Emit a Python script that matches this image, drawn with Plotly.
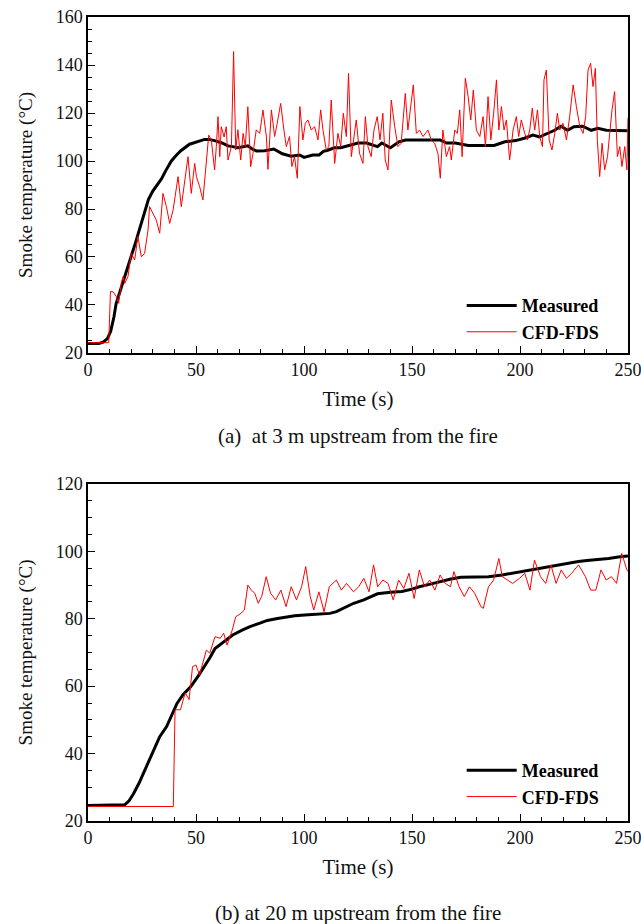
import plotly.graph_objects as go

# ---------------- (a) 3 m upstream ----------------
t_a_meas = [0, 5, 7, 9, 10.5, 12, 13, 15, 17, 20, 22, 24, 26.5, 28, 30, 32, 34, 36, 38.6, 41, 43, 47, 51, 54, 56,
            58.6, 62, 64.8, 67, 69.4, 74, 76, 78, 81.8, 86, 90, 94, 98, 100, 104, 107, 109, 111, 114, 117, 121, 125,
            129, 132, 134, 136, 138, 140, 144, 147, 155, 163, 166, 170, 173, 176, 182, 188, 193, 198, 202, 206, 209,
            213, 216, 219, 222, 225, 229, 233, 236, 240, 245, 250]
a_meas = [24, 24, 24.5, 26, 29, 35, 40.5, 46, 51.5, 60, 66, 72, 79.5, 84, 87.5, 90, 92.5, 96, 100, 102.5, 104.3, 107,
          108, 109, 109, 108.5, 107.5, 106.3, 106, 105.5, 106.3, 105, 104.2, 104.3, 105, 103, 102, 102.5, 101.5,
          102.5, 102.5, 104, 104.5, 105.5, 105.5, 106.5, 107.5, 107.5, 106.5, 106, 107.5, 106.5, 105.5, 108, 108.75,
          108.75, 108.75, 107.5, 107.5, 107, 106.5, 106.5, 106.5, 108, 108.5, 109.5, 110.8, 110, 111.5, 112.8,
          114.5, 112.8, 114.3, 114.5, 112.8, 113.6, 112.8, 112.6, 112.6]

t_a_cfd = [0, 9.6, 10.4, 11.6, 13.1, 14.2, 15.4, 16.2, 17, 18.5, 20, 21.6, 23.1, 24.7, 26.2, 27.8, 28.5, 30.1, 31.6,
           33.2, 34.7, 36.3, 37.8, 39.4, 40.9, 41.7, 43.2, 44.8, 46.3, 47.8, 49.4, 50.2, 51.7, 53.2, 54.8, 55.9, 57.1,
           58.6, 59.4, 60.2, 61, 61.7, 63, 64, 64.8, 66.4, 67.4, 68.4, 69.4, 70.7, 71.8, 72.8, 74, 75.3, 76.4, 77.9,
           79.5, 81, 82.6, 83.3,
           84.9, 86.4, 87.6, 89.2, 90.7, 91.8, 93.3, 94.4, 95.6, 96.9, 98.1, 99.5, 100.6, 101.8, 103.4, 104.9, 106.5,
           107.7, 108.8, 110.3, 111.5, 112.6, 114.2, 115.7, 117, 118.2, 119.6, 120.6, 121.9, 123.1, 124.2, 125.7,
           127.3, 128.4, 129.6, 131.1, 132.4, 133.9, 135.2, 136.5, 137.6, 138.9, 140.4, 142, 143.5, 145, 146.9, 148.1,
           149.4, 150.6, 152, 153.5, 155.1, 157.4, 158.9, 160.5, 162, 163.1, 164.3, 165.9, 167.4,
           168.2, 169.8, 171, 172.1, 173.2, 174.7, 176, 177.2, 178.4, 179.8, 181.4, 182.9, 184, 185.2, 186.5, 187.8,
           189.1, 190.2, 191.4, 192.6, 193.7, 195.2, 196.8, 198.3, 199.4, 200.6, 202.2, 203.4, 204.5, 205.7, 206.8,
           208.1, 209.1, 210.4, 211.1, 212.2, 213.5, 214.8, 216.1, 217.3, 218.4, 219.9, 221.5, 223, 224.6, 226.1,
           227.7, 229.2, 230.4, 231.5, 232.7, 233.8, 234.9, 235.8, 236.9, 238, 239.2, 240.5, 241.5, 242.6, 243.8,
           245.1, 246.2, 247.2, 248.5, 249.5, 250]
a_cfd = [24.3, 24.3, 45.6, 45.5, 43.5, 40.7, 49, 51.8, 49, 51.8, 61.5, 58.75, 68.5, 60.1, 61.5, 71.25, 81, 78.2, 75.4,
         69.9, 86.5, 81, 74, 79.6, 89.3, 93.5, 81, 92, 101.8, 86.5, 99, 93.5, 89.3, 83.75, 99, 110.8, 108.75, 96.25,
         106, 118.5, 101.8, 114.3, 110, 114.3, 100.4, 106, 145.6, 104.6, 113, 100.4, 111.5, 106, 122.6, 97.6, 103.2,
         113, 111.5, 121.25, 110, 96.5,
         121.3, 110.2, 115.7, 124, 112.9, 106, 110.2, 97.7, 101.8, 92.8, 122.7, 108.8, 115.7, 117.1, 112.9, 114.3,
         108.8, 121.3, 112.9, 104.6, 106, 125.4, 99, 111.5, 106, 119.9, 110.2, 136.5, 101.8, 110.2, 117.1, 103.2, 99,
         118.5, 106, 101.8, 112.9, 118.5, 108.8, 119.9, 100.4, 96.3, 125.4, 114.3, 106, 107.4, 128.2, 112.9, 122.7,
         131.7, 111.5, 112.9, 110.2, 112.9, 108.8, 107.4, 103.2, 92.8, 112.9, 101.8, 106,
         100.4, 112.9, 111.5, 121.3, 101.8, 134.5, 126.8, 117.1, 129.6, 112.9, 110.2, 118.5, 106, 126.8, 108.8, 119.9,
         133.8, 112.9, 122.7, 112.9, 117.1, 100.4, 112.9, 118.5, 110.2, 117.1, 111.5, 108.8, 112.9, 122, 112.9, 121.3,
         110.2, 106, 133.8, 137.9, 108.8, 104.6, 111.5, 119.9, 112.9, 115.7, 108.8, 118.5, 131.7, 122.7, 114.3,
         111.5, 118.5, 137.9, 140.7, 131, 138.6, 108.8, 93.5, 107.4, 96.3, 101.8, 112.9, 121.3, 128.9, 101.8, 106,
         97.7, 106, 96.3, 118]

# ---------------- (b) 20 m upstream ----------------
t_b_meas = [0, 10, 17, 19, 21, 23.6, 25.5, 26.8, 30, 33.2, 36.4, 38.5, 41.2, 44, 47.6, 51, 54, 56.5, 58.8, 63.6, 67,
            71.6, 75, 79.6, 83, 87.7, 95.7, 102, 108.5, 112, 115, 119.7, 123, 127.7, 134, 140, 145.3, 150, 153.4,
            158, 163, 168, 172.6, 180, 185.4, 191.8, 196, 201.4, 207, 214.2, 220, 227, 231, 236.7, 241, 246.3, 250]
b_meas = [24.6, 24.6, 24.8, 26, 28, 31.2, 34, 36.1, 40.5, 45, 48, 51, 54.9, 57.5, 59.9, 63, 65.8, 68.5, 71.2, 73.7,
          75.2, 76.7, 77.7, 78.7, 79.5, 80.1, 80.9, 81.2, 81.4, 81.6, 82.1, 83.6, 84.6, 85.6, 87.4, 87.9, 88.1, 88.8,
          89.5, 90.2, 91, 91.8, 92.3, 92.4, 92.5, 93, 93.5, 94, 94.6, 95.5, 96.2, 97, 97.3, 97.6, 97.9, 98.4, 98.6]

t_b_cfd = [0, 39.5, 40.3, 42.8, 45, 46.8, 48.4, 50, 51.6, 54.8, 56.4, 58.8, 61.2, 62.8, 64.4, 66.8, 68.4, 70.8, 72.4,
           74, 75.6, 77.2, 78.8, 80.4, 82.5, 84.5, 86.9, 89.3, 91.7, 94.1, 96.5, 98.9, 100.8, 102.9, 104.5, 106.9,
           109.3, 111.7, 115, 117.3, 119.7, 122.9, 125.3, 127.7, 130.1, 132.2, 134.1, 136.5, 138.9, 141.3, 143.8,
           146.2, 148.6, 151, 153.4, 155.8, 158.2, 160.6, 163, 165.4, 167.8, 169.4, 171.8, 174.2, 176.6, 179, 181.9,
           183, 185.4, 187.8, 190.2, 191.8, 194.2, 196.6, 199.8, 202.2, 204.6, 206.7, 209.5, 211.9, 214.3, 216.7,
           219.1, 221.5, 223.9, 227.1, 230.3, 232.7, 235.1, 237.5, 239.9, 242.3, 244.7, 247.1, 249.5, 250]
b_cfd = [24.3, 24.3, 53, 53, 58, 56, 65.8, 66.3, 63.3, 70.7, 69.8, 74.7, 74.2, 75.7, 72.2, 76.7, 80.6, 81.6, 82.6, 90,
         88.5, 87.6, 84.6, 86.6, 92.5, 87.6, 85.6, 88.5, 83.6, 89.5, 85.6, 89.5, 95.5, 86.6, 82.6, 88, 82.1, 89.5,
         91.5, 88.5, 90.5, 88, 89.5, 92, 88, 96, 89.5, 91.5, 90.5, 85.6, 91.5, 89, 93.5, 86, 94.5, 89.5, 91.5, 88.5,
         93, 90.5, 89.5, 94, 89.5, 86.6, 89.5, 87.6, 83.6, 83.1, 89.5, 91.5, 97.9, 92.5, 91.5, 90.5, 92, 93.5, 88.5,
         97.4, 92.5, 90.5, 96, 90.5, 94.5, 92, 93.5, 96, 92.5, 88.5, 88.5, 94.5, 91.5, 92.5, 90.5, 99.4, 94.5, 94]

series_names = ["Measured", "CFD-FDS"]
captions = ["(a)\u00a0\u00a0at 3 m upstream from the fire", "(b) at 20 m upstream from the fire"]
y_ranges = [[20, 160], [20, 120]]

FONT = "Liberation Serif, Times New Roman, serif"

fig = go.Figure()
fig.add_trace(go.Scatter(x=t_a_meas, y=a_meas, mode="lines", name=series_names[0],
                         line=dict(color="black", width=3), xaxis="x", yaxis="y", legend="legend"))
fig.add_trace(go.Scatter(x=t_a_cfd, y=a_cfd, mode="lines", name=series_names[1],
                         line=dict(color="#ff0000", width=1), xaxis="x", yaxis="y", legend="legend"))
fig.add_trace(go.Scatter(x=t_b_meas, y=b_meas, mode="lines", name=series_names[0],
                         line=dict(color="black", width=3), xaxis="x2", yaxis="y2", legend="legend2"))
fig.add_trace(go.Scatter(x=t_b_cfd, y=b_cfd, mode="lines", name=series_names[1],
                         line=dict(color="#ff0000", width=1), xaxis="x2", yaxis="y2", legend="legend2"))

axis_common = dict(showline=True, linecolor="black", linewidth=1.5, mirror=True,
                   ticks="inside", ticklen=7, tickwidth=1.3, tickcolor="black",
                   showgrid=False, zeroline=False, automargin=False, ticklabeloverflow="allow",
                   tickfont=dict(family=FONT, size=18, color="#111"))

xa = dict(axis_common, range=[0, 250], dtick=50, tick0=0,
          minor=dict(ticks="inside", ticklen=4, dtick=10, tickwidth=1.1, tickcolor="black"),
          title=dict(text="Time (s)", font=dict(family=FONT, size=21, color="#111"), standoff=12))
ya = dict(axis_common, dtick=20, tick0=0,
          minor=dict(ticks="inside", ticklen=4, dtick=5, tickwidth=1.1, tickcolor="black"),
          title=dict(text="Smoke temperature (°C)", font=dict(family=FONT, size=19, color="#111"), standoff=18))

legend_common = dict(font=dict(family=FONT, size=18, color="black", weight="bold"),
                     bgcolor="rgba(0,0,0,0)", xanchor="right", yanchor="bottom",
                     tracegroupgap=0, itemwidth=50, traceorder="normal")

fig.update_layout(
    width=641, height=924,
    margin=dict(l=88, r=13, t=17, b=103, autoexpand=False),
    paper_bgcolor="white", plot_bgcolor="white",
    xaxis=dict(xa, domain=[0, 1], anchor="y"),
    yaxis=dict(ya, domain=[0.5821, 1], range=y_ranges[0], anchor="x"),
    xaxis2=dict(xa, domain=[0, 1], anchor="y2"),
    yaxis2=dict(ya, domain=[0, 0.4192], range=y_ranges[1], anchor="x2"),
    legend=dict(legend_common, x=0.955, y=0.5856),
    legend2=dict(legend_common, x=0.955, y=0.0075),
    annotations=[
        dict(text=captions[0], x=0.5, y=0.479, xref="paper", yref="paper", showarrow=False,
             xanchor="center", yanchor="middle", font=dict(family=FONT, size=21, color="#111")),
        dict(text=captions[1], x=0.5, y=-0.1144, xref="paper", yref="paper", showarrow=False,
             xanchor="center", yanchor="middle", font=dict(family=FONT, size=21, color="#111")),
    ],
)

fig.write_html("out.html", config={"displayModeBar": False},
               post_script="document.body.style.margin='0px';document.body.style.overflow='hidden';")
